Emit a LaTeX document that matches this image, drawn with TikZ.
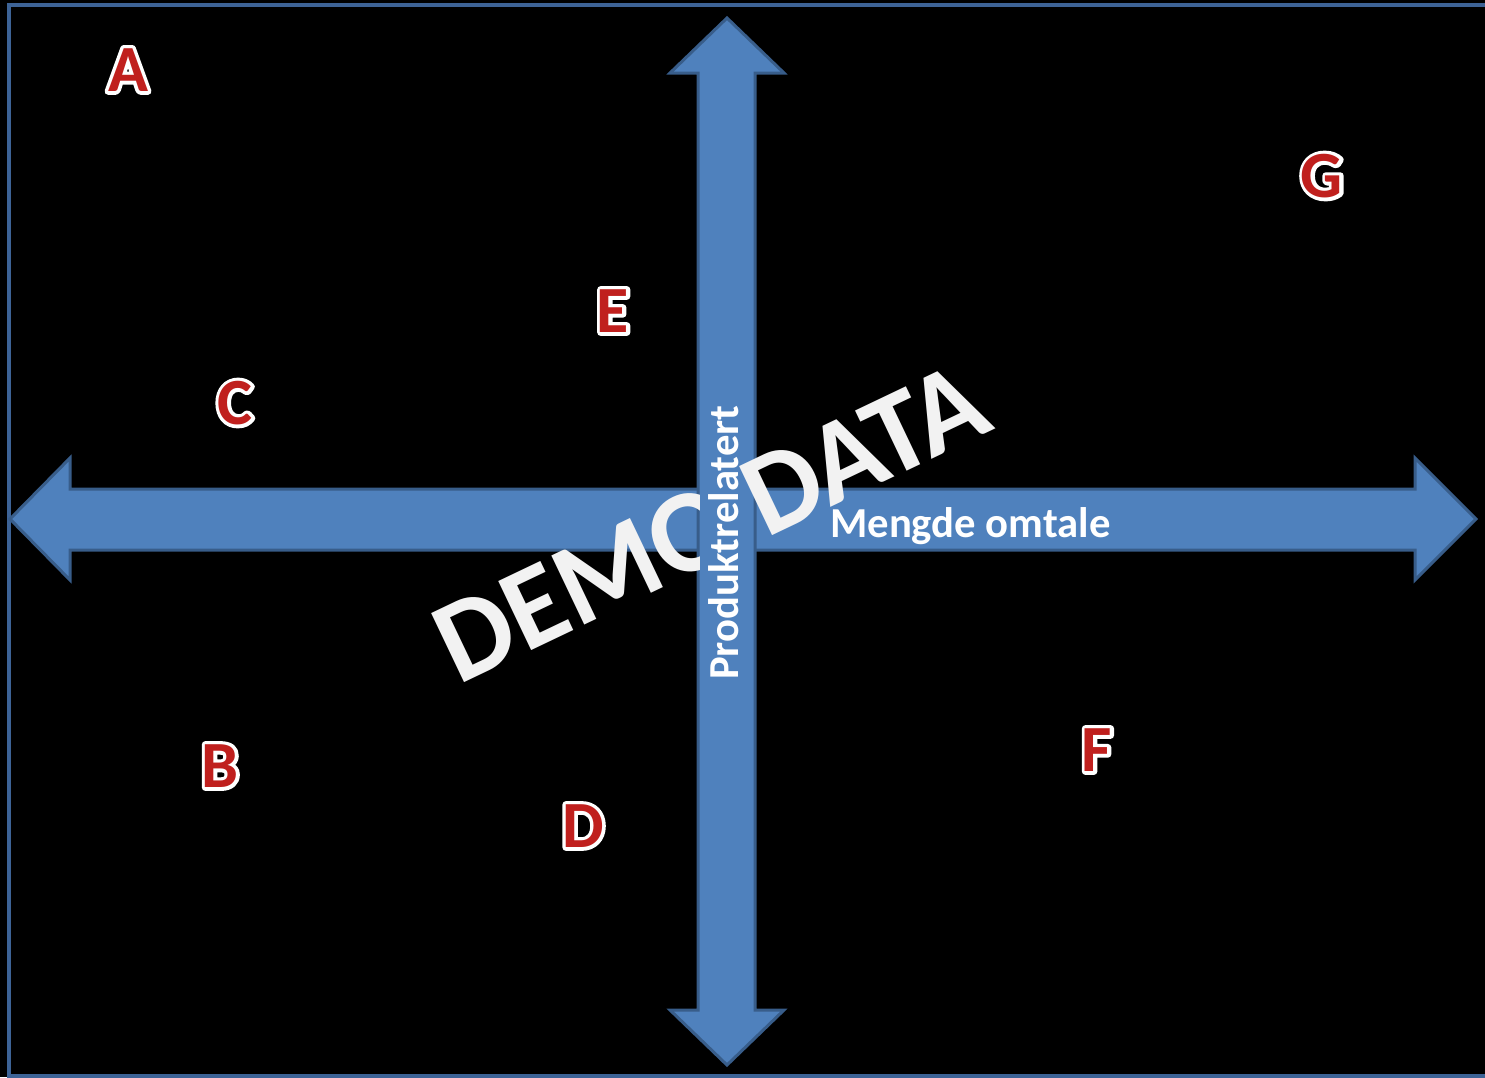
\documentclass[tikz,border=0pt]{standalone}
\usepackage{fontspec}
\setmainfont{Carlito}
\definecolor{bfill}{HTML}{4F81BD}
\definecolor{bline}{HTML}{385D8A}
\definecolor{frame}{HTML}{3D6396}
\definecolor{lred}{HTML}{C0201E}
\definecolor{demo}{HTML}{F2F2F2}
\tikzset{
  arrowshape/.style={fill=bfill, draw=bline, line width=3pt, line join=miter},
  lt/.style={inner sep=0pt, text=lred, font=\bfseries\fontsize{66}{66}\selectfont},
  axislabel/.style={inner sep=0pt, text=white, font=\bfseries\fontsize{42.7}{42.7}\selectfont},
  framestyle/.style={draw=frame, line width=4pt}
}
\newcommand\outlined[1]{\rlap{\color{white}\special{pdf:literal direct 1 Tr 1 j 7 w}#1\special{pdf:literal direct 0 Tr}}#1}
\begin{document}
\begin{tikzpicture}[x=1pt,y=-1pt]
\fill[black] (0,0) rectangle (1485,1077);
\useasboundingbox (0,0) rectangle (1485,1077);
% frame
\draw[framestyle] (1487,5) -- (9,5) -- (9,1076) -- (1487,1076);
% horizontal arrow
\draw[arrowshape] (10,519) -- (70,458) -- (70,489) -- (1415,489) -- (1415,458) -- (1476,519)
  -- (1415,580) -- (1415,550) -- (70,550) -- (70,580) -- cycle;
% vertical arrow
\draw[arrowshape] (727,18) -- (784,73) -- (755,73) -- (755,1010) -- (784,1010) -- (727,1065)
  -- (670,1010) -- (698,1010) -- (698,73) -- (670,73) -- cycle;
% letters
\node[lt] (A) at (128,70) {\outlined{A}};
\node[lt] (G) at (1322,176) {\outlined{G}};
\node[lt] (E) at (613,311) {\outlined{E}};
\node[lt] (C) at (235,403) {\outlined{C}};
\node[lt] (B) at (220,766) {\outlined{B}};
\node[lt] (D) at (583,826) {\outlined{D}};
\node[lt] (F) at (1097,750) {\outlined{F}};
% watermark
\node[inner sep=0pt, text=demo, font=\bfseries\fontsize{118}{118}\selectfont, anchor=base, rotate=25.5] (demo) at (727,557) {DEMO DATA};
% axis labels
\fill[bfill] (700,404) rectangle (729,684);
\node[axislabel, anchor=base west] (mengde) at (830,537) {Mengde omtale};
\node[axislabel, anchor=base west, rotate=90] (produkt) at (738,680) {Produktrelatert};
\end{tikzpicture}
\end{document}
